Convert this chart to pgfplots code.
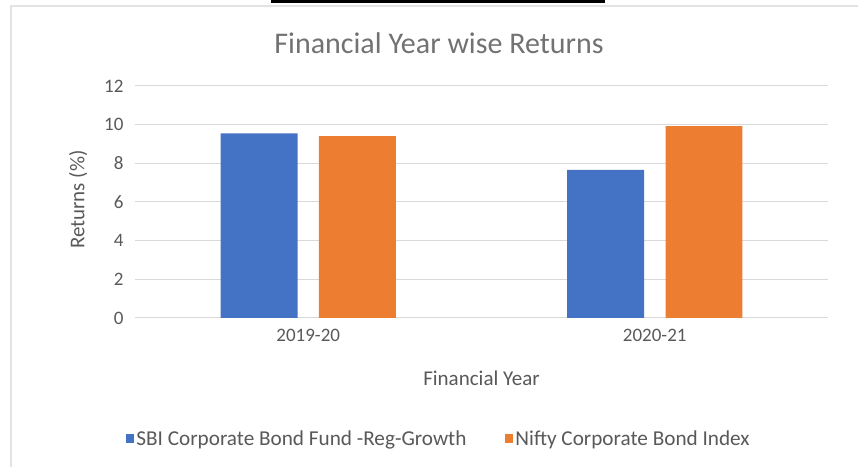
\documentclass[border=0pt]{standalone}
\usepackage{pgfplots}
\pgfplotsset{compat=1.18}
\usepackage{fontspec}
\setmainfont{Carlito}
\definecolor{sbiblue}{HTML}{4472C4}
\definecolor{niftyorange}{HTML}{ED7D31}
\definecolor{txtgray}{HTML}{595959}
\definecolor{gridgray}{HTML}{D9D9D9}
\begin{document}
\begin{tikzpicture}[x=1bp,y=1bp]
\useasboundingbox (0,0) rectangle (858,467);
\fill[white] (0,0) rectangle (858,467);
% frame of the chart area and the black strip on top
\draw[gray!22, line width=2bp] (11,0) -- (11,461) -- (858,461);
\fill[black] (271,464) rectangle (605,467);

\begin{axis}[
    at={(135bp,149bp)}, anchor=south west,
    scale only axis, width=693bp, height=232bp,
    ybar, bar width=0.222,
    xmin=-0.5, xmax=1.5, ymin=0, ymax=12,
    xtick={0,1}, xticklabels={2019-20,2020-21},
    ytick={0,2,...,12},
    axis x line=bottom, axis y line=left,
    axis line style={draw=none},
    major tick length=0,
    ymajorgrids, grid style={gridgray, line width=1bp},
    /pgf/number format/assume math mode=true,
    tick label style={font=\fontsize{19bp}{22bp}\selectfont, text=txtgray},
    yticklabel style={xshift=-8bp},
    xticklabel style={yshift=-8bp},
    title={Financial Year wise Returns},
    title style={font=\fontsize{30bp}{36bp}\selectfont, text=txtgray!85,
        at={(axis description cs:0.4387,1.158)}, anchor=center},
    xlabel={Financial Year},
    xlabel style={font=\fontsize{21bp}{25bp}\selectfont, text=txtgray,
        at={(axis description cs:0.5,-0.259)}, anchor=center},
    ylabel={Returns (\%)},
    ylabel style={font=\fontsize{21bp}{25bp}\selectfont, text=txtgray,
        at={(axis description cs:-0.082,0.51)}, anchor=center},
    legend columns=2,
    legend style={at={(axis description cs:0.4387,-0.52)}, anchor=center,
        draw=none, fill=none, font=\fontsize{21.2bp}{25bp}\selectfont, text=txtgray,
        /tikz/every even column/.append style={column sep=37bp}},
    legend image code/.code={\fill[#1] (0bp,-4.5bp) rectangle (8bp,4.5bp);},
]
\addplot[fill=sbiblue, draw=none, bar shift=-0.142]
    coordinates {(0,9.55) (1,7.66)};
\addlegendentry{SBI Corporate Bond Fund -Reg-Growth}
\addplot[fill=niftyorange, draw=none, bar shift=0.142]
    coordinates {(0,9.41) (1,9.93)};
\addlegendentry{Nifty Corporate Bond Index}
\end{axis}
\end{tikzpicture}
\end{document}
